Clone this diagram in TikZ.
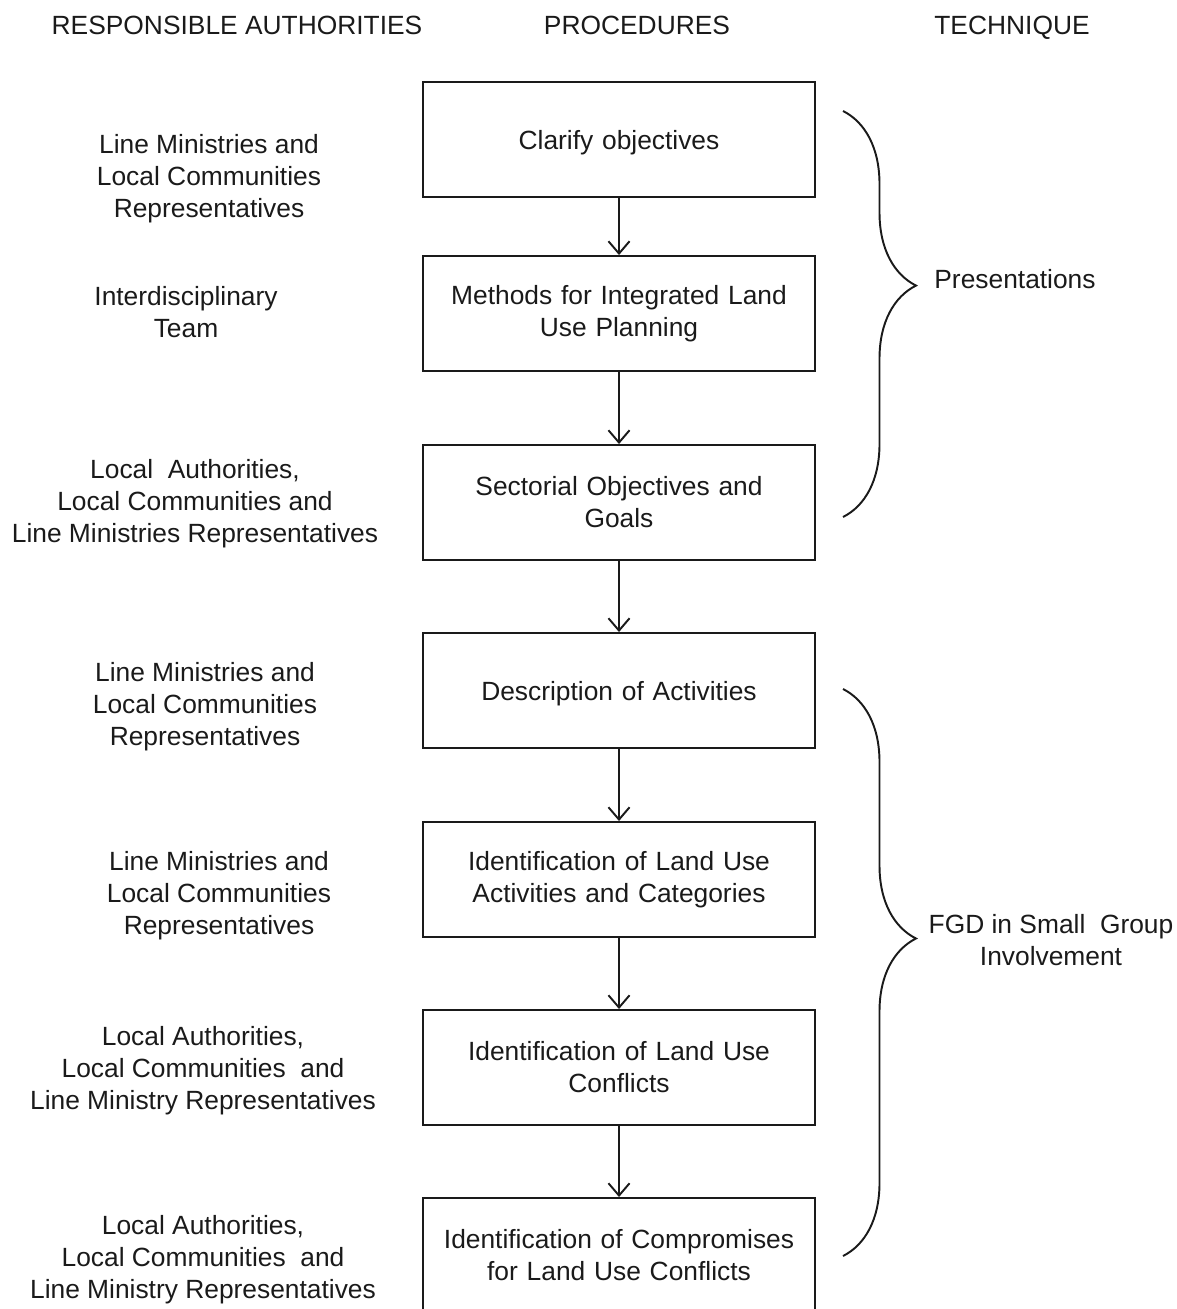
\documentclass[tikz,border=0pt]{standalone}
\usepackage{fontspec}
\setmainfont{Liberation Sans}
\usepackage{tikz}
\usetikzlibrary{arrows.meta,decorations.pathreplacing}
\definecolor{ink}{HTML}{1A1A1A}

\tikzset{
  procbox/.style={draw=ink,line width=1.1pt,minimum width=7.84cm,minimum height=2.3cm,text width=7.4cm,align=center,inner sep=0pt},
  who/.style={align=center,text depth=0pt},
  flow/.style={-{Straight Barb[length=7pt,width=12pt]},draw=ink,line width=1.1pt},
  grp/.style={decorate,decoration={brace,amplitude=1.46cm,aspect=#1},draw=ink,line width=1.1pt},
}

\begin{document}
\begin{tikzpicture}[x=0.2mm,y=-0.2mm,font=\fontsize{15pt}{18.2pt}\selectfont,text=ink]
  \useasboundingbox (0,0) rectangle (1177,1309);
  % column heads
  \node[who] (hwho)  at (237,25)  {RESPONSIBLE AUTHORITIES};
  \node[who] (hproc) at (637,25)  {PROCEDURES};
  \node[who] (htech) at (1012,25) {TECHNIQUE};
  % procedures
  \node[procbox,text depth=0pt] (p1) at (619,139.5)  {Clarify objectives};
  \node[procbox] (p2) at (619,313.5)  {Methods for Integrated Land\\Use Planning};
  \node[procbox] (p3) at (619,502.5)  {Sectorial Objectives and\\Goals};
  \node[procbox,text depth=0pt] (p4) at (619,690.5)  {Description of Activities};
  \node[procbox] (p5) at (619,879.5)  {Identification of Land Use\\Activities and Categories};
  \node[procbox] (p6) at (619,1067.5) {Identification of Land Use\\Conflicts};
  \node[procbox] (p7) at (619,1255.5) {Identification of Compromises\\for Land Use Conflicts};
  \foreach \a/\b in {p1/p2,p2/p3,p3/p4,p4/p5,p5/p6,p6/p7}
    \draw[flow] (\a) -- (\b);
  % responsible authorities
  \node[who] (w1) at (209,176)  {Line Ministries and\\Local Communities\\Representatives};
  \node[who] (w2) at (186,312)  {Interdisciplinary\\Team};
  \node[who] (w3) at (195,501)  {Local\ \ Authorities,\\Local Communities and\\Line Ministries Representatives};
  \node[who] (w4) at (205,704)  {Line Ministries and\\Local Communities\\Representatives};
  \node[who] (w5) at (219,893)  {Line Ministries and\\Local Communities\\Representatives};
  \node[who] (w6) at (203,1068) {Local Authorities,\\Local Communities\ \ and\\Line Ministry Representatives};
  \node[who] (w7) at (203,1257) {Local Authorities,\\Local Communities\ \ and\\Line Ministry Representatives};
  % techniques
  \coordinate (t1a) at (843,111);
  \coordinate (t1b) at (843,517);
  \coordinate (t2a) at (843,689);
  \coordinate (t2b) at (843,1256);
  \draw[grp=0.43] (t1a) -- (t1b);
  \draw[grp=0.44] (t2a) -- (t2b);
  \node[who] (tq1) at (1015,279) {Presentations};
  \node[who] (tq2) at (1051,940) {FGD in Small\ \ Group\\Involvement};
\end{tikzpicture}
\end{document}
